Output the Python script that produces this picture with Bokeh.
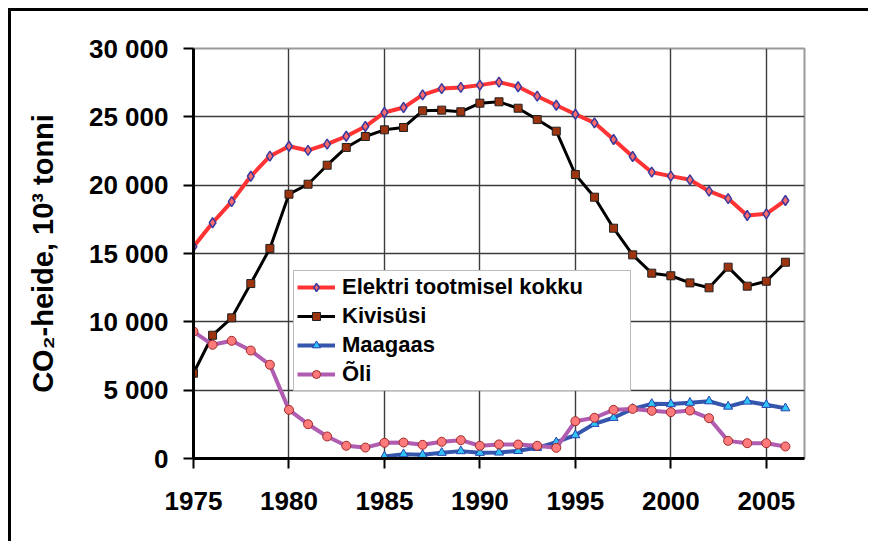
from bokeh.plotting import figure
from bokeh.models import Range1d, FixedTicker, Legend, LegendItem
from bokeh.embed import file_html
from bokeh.resources import INLINE

# ---- data ----
years = list(range(1975, 2007))
elektri = [15500, 17250, 18800, 20650, 22120, 22850, 22540, 23000, 23580, 24290,
           25320, 25680, 26610, 27070, 27150, 27320, 27540, 27200, 26510, 25850,
           25190, 24560, 23340, 22100, 20950, 20660, 20390, 19560, 19020, 17780,
           17900, 18880]
kivisysi = [6240, 9020, 10290, 12800, 15370, 19340, 20070, 21460, 22760, 23560,
            24050, 24220, 25440, 25490, 25370, 26000, 26100, 25630, 24800, 23950,
            20780, 19120, 16850, 14900, 13560, 13370, 12850, 12490, 14000, 12610,
            12970, 14360]
maagaas_years = list(range(1985, 2007))
maagaas = [150, 320, 270, 420, 540, 420, 440, 560, 780, 1190,
           1710, 2540, 2980, 3630, 4000, 3980, 4080, 4190, 3800, 4170,
           3930, 3680]
oli = [9290, 8320, 8610, 7900, 6860, 3560, 2510, 1610, 930, 800,
       1150, 1170, 1000, 1220, 1340, 930, 1030, 1020, 930, 780,
       2730, 2980, 3560, 3630, 3490, 3390, 3510, 2950, 1290, 1120,
       1120, 880]

series_names = ["Elektri tootmisel kokku", "Kivisüsi", "Maagaas", "Õli"]
x_ticks = [1975, 1980, 1985, 1990, 1995, 2000, 2005]
y_ticks = [0, 5000, 10000, 15000, 20000, 25000, 30000]
y_tick_labels = ["0", "5 000", "10 000", "15 000", "20 000", "25 000", "30 000"]
y_title = "CO\u2082-heide, 10\u00b3 tonni"

FONT = "Liberation Sans"

p = figure(width=860, height=533,
           x_range=Range1d(1975, 2007), y_range=Range1d(0, 30000),
           output_backend="svg", toolbar_location=None,
           min_border_left=182, min_border_top=37,
           min_border_right=67, min_border_bottom=86,
           background_fill_color="white", border_fill_color="white")
p.styles = {"border-left": "3px solid black", "border-top": "3px solid black",
            "margin-left": "8px", "margin-top": "8px"}

p.outline_line_color = "#9a9a9a"
p.outline_line_width = 2

# grid
for g in (p.xgrid, p.ygrid):
    g.grid_line_color = "#3c3c3c"
    g.grid_line_width = 1.4
p.xgrid.ticker = FixedTicker(ticks=x_ticks)
p.ygrid.ticker = FixedTicker(ticks=y_ticks)

# axes
xa = p.xaxis[0]
ya = p.yaxis[0]
xa.ticker = FixedTicker(ticks=x_ticks)
ya.ticker = FixedTicker(ticks=y_ticks)
ya.major_label_overrides = {t: l for t, l in zip(y_ticks, y_tick_labels)}
for ax in (xa, ya):
    ax.axis_line_color = "black"
    ax.axis_line_width = 3
    ax.major_tick_line_color = "black"
    ax.major_tick_line_width = 2
    ax.major_tick_out = 10
    ax.major_tick_in = 0
    ax.minor_tick_line_color = None
    ax.major_label_text_font = FONT
    ax.major_label_text_font_style = "bold"
    ax.major_label_text_color = "black"
    ax.major_label_text_font_size = "26px"
xa.major_label_standoff = 23
ya.major_label_standoff = 15
ya.axis_label = y_title
ya.axis_label_text_font = FONT
ya.axis_label_text_font_style = "bold"
ya.axis_label_text_font_size = "29px"
ya.axis_label_text_color = "black"
ya.axis_label_standoff = 27

# series
r1l = p.line(years, elektri, line_color="#ff3333", line_width=4)
r1m = p.scatter(years, elektri, marker="diamond", size=10,
                fill_color="#ff6a6a", line_color="#3a3aa0", line_width=1.5)
r2l = p.line(years, kivisysi, line_color="black", line_width=3)
r2m = p.scatter(years, kivisysi, marker="square", size=8,
                fill_color="#9c3410", line_color="#202020", line_width=1)
r3l = p.line(maagaas_years, maagaas, line_color="#3556ac", line_width=4)
r3m = p.scatter(maagaas_years, maagaas, marker="triangle", size=9,
                fill_color="#2ec4f5", line_color="#2840b0", line_width=1)
r4l = p.line(years, oli, line_color="#b05cb0", line_width=4)
r4m = p.scatter(years, oli, marker="circle", size=9,
                fill_color="#ff7a7a", line_color="#a02a2a", line_width=1)

legend = Legend(items=[
    LegendItem(label=series_names[0], renderers=[r1l, r1m]),
    LegendItem(label=series_names[1], renderers=[r2l, r2m]),
    LegendItem(label=series_names[2], renderers=[r3l, r3m]),
    LegendItem(label=series_names[3], renderers=[r4l, r4m]),
], location=(100, 67))
legend.margin = 0
legend.padding = 3
legend.spacing = 3
legend.glyph_width = 38
legend.glyph_height = 20
legend.label_standoff = 7
legend.label_width = 285
legend.label_text_font = FONT
legend.label_text_font_style = "bold"
legend.label_text_font_size = "22px"
legend.label_text_color = "black"
legend.border_line_color = "#7a7a7a"
legend.border_line_width = 1.5
legend.background_fill_color = "white"
legend.background_fill_alpha = 1.0
p.add_layout(legend, "center")

open("out.html", "w").write(file_html(p, INLINE))
